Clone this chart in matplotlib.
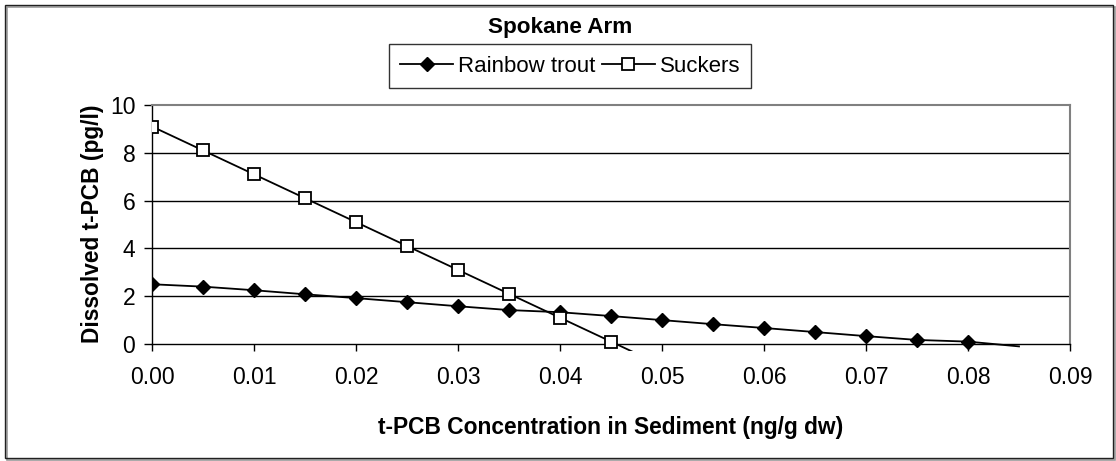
import matplotlib
matplotlib.use("Agg")
import matplotlib.pyplot as plt
from matplotlib.patches import Rectangle

plt.rcParams['font.family'] = ['Liberation Sans', 'DejaVu Sans']

# data
conc_trout = [0.000, 0.005, 0.010, 0.015, 0.020, 0.025, 0.030, 0.035, 0.040,
              0.045, 0.050, 0.055, 0.060, 0.065, 0.070, 0.075, 0.080, 0.085]
rainbow_trout = [2.5, 2.4, 2.25, 2.08, 1.92, 1.75, 1.58, 1.42, 1.33,
                 1.17, 1.0, 0.83, 0.67, 0.5, 0.33, 0.17, 0.1, -0.1]
conc_suckers = [0.000, 0.005, 0.010, 0.015, 0.020, 0.025, 0.030, 0.035, 0.040,
                0.045, 0.050]
suckers = [9.1, 8.1, 7.1, 6.1, 5.1, 4.1, 3.1, 2.1, 1.1, 0.1, -0.9]
x_ticks = [0.00, 0.01, 0.02, 0.03, 0.04, 0.05, 0.06, 0.07, 0.08, 0.09]
y_ticks = [0, 2, 4, 6, 8, 10]

W, H = 1116, 461
fig = plt.figure(figsize=(W / 100, H / 100), dpi=100)

# outer chart frame with a little shadow
fig.patches.append(Rectangle((7 / W, 1 - 460 / H), 1108 / W, 453 / H,
                             transform=fig.transFigure, fill=False,
                             edgecolor='#9a9a9a', linewidth=1.2))
fig.patches.append(Rectangle((5 / W, 1 - 458 / H), 1108 / W, 453 / H,
                             transform=fig.transFigure, fill=False,
                             edgecolor='#202020', linewidth=1.0))

ax = fig.add_axes([152 / W, 1 - 344 / H, (1070 - 152) / W, (344 - 105) / H])

# only the real points get markers; the last segment runs past the axis
mk_t = [i for i, v in enumerate(rainbow_trout) if v >= 0]
mk_s = [i for i, v in enumerate(suckers) if v >= 0]
l1, = ax.plot(conc_trout, rainbow_trout, color='black', lw=1.3, marker='D',
              ms=7.5, mfc='black', mec='black', markevery=mk_t,
              label='Rainbow trout', zorder=3)
l2, = ax.plot(conc_suckers, suckers, color='black', lw=1.3, marker='s',
              ms=8, mfc='white', mec='black', mew=1.3, markevery=mk_s,
              label='Suckers', zorder=4)
clip = Rectangle((0, -0.03), 1, 1.06, transform=ax.transAxes)
l1.set_clip_path(clip)
l2.set_clip_path(clip)

ax.set_xlim(0, 0.09)
ax.set_ylim(0, 10)
ax.set_xticks(x_ticks)
ax.set_xticklabels(['%.2f' % t for t in x_ticks])
ax.set_yticks(y_ticks)
ax.tick_params(axis='both', labelsize=16.5, direction='out', color='black', width=1)
ax.tick_params(axis='x', length=5, pad=11)
ax.tick_params(axis='y', length=6, pad=6)

for yv in y_ticks[1:-1]:
    ax.axhline(yv, color='black', lw=1.0, zorder=1)

for s in ['top', 'right']:
    ax.spines[s].set_color('#808080')
    ax.spines[s].set_linewidth(1.5)
for s in ['left', 'bottom']:
    ax.spines[s].set_color('black')
    ax.spines[s].set_linewidth(1.0)

fig.text(560 / W, 1 - 28 / H, 'Spokane Arm', ha='center', va='center',
         fontsize=16.2, fontweight='bold')
fig.text(611 / W, 1 - 427 / H, 't-PCB Concentration in Sediment (ng/g dw)',
         ha='center', va='center', fontsize=16.4, fontweight='bold')
fig.text(93 / W, 1 - 224 / H, 'Dissolved t-PCB (pg/l)', ha='center',
         va='center', rotation=90, fontsize=16.4, fontweight='bold')

leg = fig.legend(handles=[l1, l2], loc='center', ncol=2,
                 bbox_to_anchor=(570 / W, 1 - 66 / H), fontsize=16,
                 frameon=True, fancybox=False, shadow=False, handlelength=2.4,
                 handletextpad=0.2, columnspacing=0.3, borderpad=0.5,
                 borderaxespad=0)
leg.get_frame().set_edgecolor('black')
leg.get_frame().set_linewidth(1.0)

fig.savefig('out.png', dpi=100)
